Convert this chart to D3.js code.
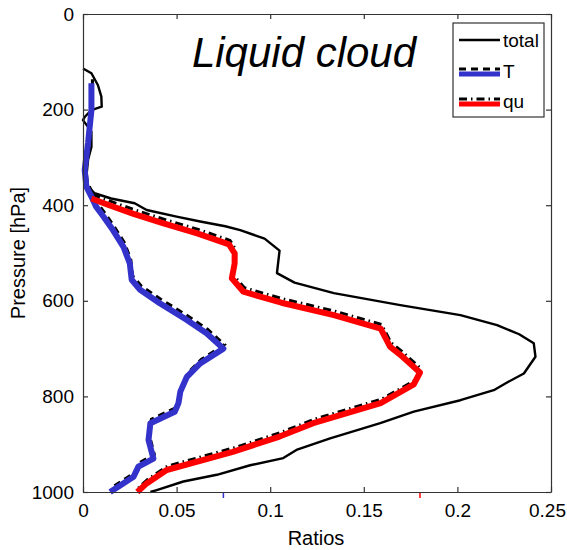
<!DOCTYPE html>
<html>
<head>
<meta charset="utf-8">
<script src="https://cdn.jsdelivr.net/npm/d3@7"></script>
<style>
  body { margin: 0; background: #fff; }
  text { font-family: "Liberation Sans", Arial, sans-serif; fill: #000; }
</style>
</head>
<body>
<svg id="chart"></svg>
<script>
// profiles: [pressure hPa, ratio]
var totalData = [[114,0],[124,0.0045],[149,0.008],[173,0.0098],[194,0.010],[201,0.0045],[215,0.001],[222,0],
  [246,0.0045],[278,0.0045],[305,0.0027],[340,0.0018],[361,0.0027],[375,0.0062],[386,0.015],[396,0.0276],
  [410,0.034],[424,0.050],[434,0.0626],[444,0.076],[452,0.084],[470,0.097],[495,0.105],[542,0.1036],
  [562,0.113],[584,0.134],[609,0.1695],[630,0.2016],[651,0.2212],[670,0.233],[689,0.2408],[717,0.2417],
  [752,0.2355],[770,0.227],[787,0.2194],[808,0.2016],[832,0.1767],[856,0.1588],[888,0.132],[912,0.114],
  [929,0.107],[944,0.0893],[964,0.0715],[978,0.0536],[996,0.0394],[1000,0.036]];
var tData = [[145,0.0045],[201,0.0045],[270,0.0027],[326,0.0009],[361,0.0018],[382,0.0045],[403,0.007],
  [424,0.011],[452,0.016],[487,0.0216],[522,0.025],[556,0.026],[577,0.0305],[605,0.041],[640,0.0555],
  [668,0.066],[700,0.075],[731,0.0626],[759,0.0555],[790,0.052],[814,0.051],[832,0.049],[856,0.036],
  [891,0.035],[930,0.0376],[947,0.0296],[968,0.027],[1000,0.0145]];
var quData = [[386,0.0045],[400,0.014],[418,0.027],[438,0.043],[459,0.061],[482,0.078],[501,0.081],
  [522,0.081],[553,0.0795],[581,0.0857],[604,0.106],[630,0.134],[658,0.159],[696,0.164],[713,0.1695],
  [750,0.180],[775,0.1767],[814,0.159],[856,0.123],[884,0.105],[916,0.080],[954,0.0447],[982,0.034],
  [1000,0.029]];

var xTicks = [0, 0.05, 0.1, 0.15, 0.2, 0.25],
    xTickLabels = ["0", "0.05", "0.1", "0.15", "0.2", "0.25"],
    yTicks = [0, 200, 400, 600, 800, 1000];
var legendNames = ["total", "T", "qu"];
var titleText = "Liquid cloud";

var W = 567, H = 550;
var margin = {top: 14, right: 16, bottom: 58, left: 83},
    width = W - margin.left - margin.right,
    height = H - margin.top - margin.bottom;

var svg = d3.select("#chart").attr("width", W).attr("height", H);
svg.append("rect").attr("width", W).attr("height", H).attr("fill", "#fff");

var g = svg.append("g").attr("transform", "translate(" + margin.left + "," + margin.top + ")");

var xScale = d3.scaleLinear().domain([0, 0.25]).range([0, width]),
    yScale = d3.scaleLinear().domain([0, 1000]).range([0, height]);

var line = d3.line()
    .x(function(d) { return xScale(d[1]); })
    .y(function(d) { return yScale(d[0]); });

// clip to the axes box
g.append("clipPath").attr("id", "clip")
  .append("rect").attr("x", -2).attr("y", 0).attr("width", width + 2).attr("height", height + 3);
var plot = g.append("g").attr("clip-path", "url(#clip)");

// black total
plot.append("path").datum(totalData)
    .attr("d", line).attr("fill", "none")
    .attr("stroke", "#000").attr("stroke-width", 2.4).attr("stroke-linejoin", "round");

// dashed companions sit a few px above the coloured profiles
plot.append("path").datum(tData)
    .attr("d", line).attr("fill", "none").attr("transform", "translate(1,-4)")
    .attr("stroke", "#000").attr("stroke-width", 3).attr("stroke-dasharray", "7,5");
plot.append("path").datum(quData)
    .attr("d", line).attr("fill", "none").attr("transform", "translate(1,-4)")
    .attr("stroke", "#000").attr("stroke-width", 3).attr("stroke-dasharray", "8,4,1.5,4");

plot.append("path").datum(tData)
    .attr("d", line).attr("fill", "none")
    .attr("stroke", "#3333cc").attr("stroke-width", 6).attr("stroke-linejoin", "round");
plot.append("path").datum(quData)
    .attr("d", line).attr("fill", "none")
    .attr("stroke", "#ff0000").attr("stroke-width", 6).attr("stroke-linejoin", "round");

// axes (box with inward ticks)
var axisColor = "#333";
var xAxisB = d3.axisBottom(xScale).tickValues(xTicks).tickSizeInner(-5).tickSizeOuter(0)
    .tickFormat(function(d, i) { return xTickLabels[i]; }).tickPadding(12);
var xAxisT = d3.axisTop(xScale).tickValues(xTicks).tickSizeInner(-5).tickSizeOuter(0).tickFormat("");
var yAxisL = d3.axisLeft(yScale).tickValues(yTicks).tickSizeInner(-5).tickSizeOuter(0)
    .tickFormat(d3.format("d")).tickPadding(9);
var yAxisR = d3.axisRight(yScale).tickValues(yTicks).tickSizeInner(-5).tickSizeOuter(0).tickFormat("");

function styleAxis(sel) {
  sel.select(".domain").attr("stroke", axisColor).attr("stroke-width", 1.2);
  sel.selectAll(".tick line").attr("stroke", axisColor).attr("stroke-width", 1.2);
  sel.selectAll(".tick text").style("font-size", "19px").attr("fill", "#000");
}
var xb = g.append("g").attr("transform", "translate(0," + height + ")").call(xAxisB).call(styleAxis);
// last label sits right at the page edge
xb.selectAll(".tick text").filter(function(d) { return d === 0.25; }).attr("dx", -4);
g.append("g").call(xAxisT).call(styleAxis);
g.append("g").call(yAxisL).call(styleAxis);
g.append("g").attr("transform", "translate(" + width + ",0)").call(yAxisR).call(styleAxis);

// small outer ticks marking each profile's maximum on the bottom axis
[[tData, "#3333cc"], [quData, "#ff0000"]].forEach(function(s) {
  var mx = d3.max(s[0], function(d) { return d[1]; });
  g.append("line")
    .attr("x1", xScale(mx)).attr("x2", xScale(mx))
    .attr("y1", height + 1).attr("y2", height + 6)
    .attr("stroke", s[1]).attr("stroke-width", 1.5);
});

// axis labels
svg.append("text")
    .attr("x", margin.left + xScale(0.125) - 1).attr("y", 545)
    .attr("text-anchor", "middle").style("font-size", "20px")
    .text("Ratios");
svg.append("text")
    .attr("transform", "translate(25," + (margin.top + height / 2) + ") rotate(-90)")
    .attr("text-anchor", "middle").style("font-size", "20px")
    .text("Pressure [hPa]");

// title
svg.append("text")
    .attr("x", 304).attr("y", 67)
    .attr("text-anchor", "middle").style("font-size", "42px").style("font-style", "italic")
    .text(titleText);

// legend
var leg = svg.append("g").attr("transform", "translate(453,23)");
leg.append("rect").attr("width", 91).attr("height", 94)
    .attr("fill", "#fff").attr("stroke", axisColor).attr("stroke-width", 1.2);
var legY = [17, 48, 78];
// total
leg.append("line").attr("x1", 6).attr("x2", 47).attr("y1", legY[0]).attr("y2", legY[0])
    .attr("stroke", "#000").attr("stroke-width", 2.6);
// T
leg.append("line").attr("x1", 6).attr("x2", 47).attr("y1", legY[1] + 3).attr("y2", legY[1] + 3)
    .attr("stroke", "#3333cc").attr("stroke-width", 5);
leg.append("line").attr("x1", 6).attr("x2", 47).attr("y1", legY[1] - 2).attr("y2", legY[1] - 2)
    .attr("stroke", "#000").attr("stroke-width", 3).attr("stroke-dasharray", "7,5");
// qu
leg.append("line").attr("x1", 6).attr("x2", 47).attr("y1", legY[2] + 3).attr("y2", legY[2] + 3)
    .attr("stroke", "#ff0000").attr("stroke-width", 5);
leg.append("line").attr("x1", 6).attr("x2", 47).attr("y1", legY[2] - 2).attr("y2", legY[2] - 2)
    .attr("stroke", "#000").attr("stroke-width", 3).attr("stroke-dasharray", "8,4,1.5,4");
leg.selectAll("text.lbl").data(legendNames).enter()
  .append("text").attr("class", "lbl")
    .attr("x", 50).attr("y", function(d, i) { return legY[i] + 7; })
    .style("font-size", "19px")
    .text(function(d) { return d; });
</script>
</body>
</html>
